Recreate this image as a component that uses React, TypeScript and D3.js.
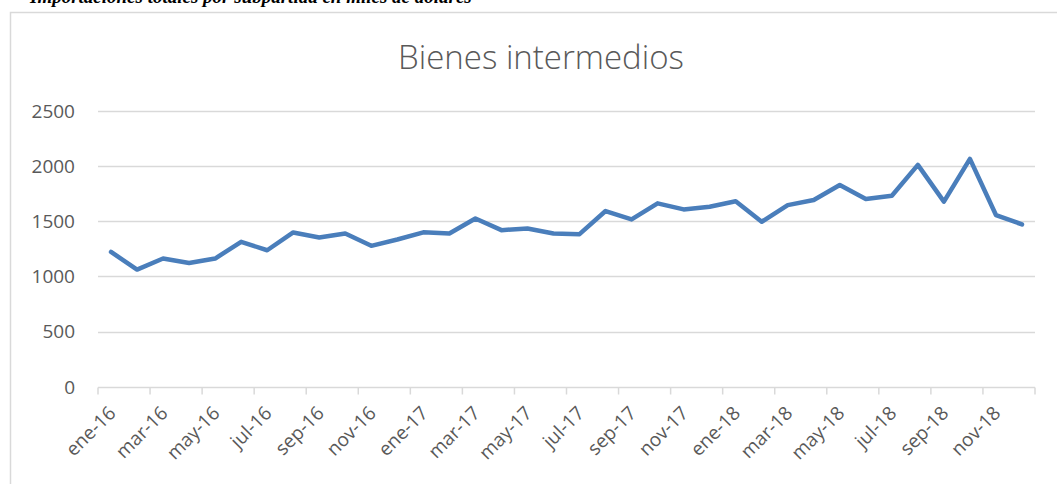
import React, { useEffect, useRef } from 'react';
import * as d3 from 'd3';

const months = ['ene', 'feb', 'mar', 'abr', 'may', 'jun', 'jul', 'ago', 'sep', 'oct', 'nov', 'dic'];
const years = ['16', '17', '18'];
const categories = years.flatMap((y) => months.map((m) => `${m}-${y}`));

const values2016 = [1221, 1061, 1161, 1121, 1161, 1312, 1236, 1397, 1352, 1388, 1276, 1333];
const values2017 = [1398, 1388, 1524, 1418, 1433, 1388, 1382, 1591, 1515, 1661, 1606, 1630];
const values2018 = [1680, 1494, 1645, 1691, 1827, 1700, 1730, 2009, 1676, 2064, 1555, 1470];
const values = [...values2016, ...values2017, ...values2018];

const yTicks = [0, 500, 1000, 1500, 2000, 2500];
const title = 'Bienes intermedios';
const caption = 'Importaciones totales por subpartida en miles de dólares';

export default function App() {
  const svgRef = useRef<SVGSVGElement>(null);

  useEffect(() => {
    const svg = d3.select(svgRef.current);
    svg.selectAll('*').remove();

    const margin = { left: 98, right: 1035, top: 110.7, bottom: 386.7 };

    const x = d3
      .scaleBand()
      .domain(categories)
      .range([margin.left, margin.right])
      .padding(0);
    const y = d3.scaleLinear().domain([0, 2500]).range([margin.bottom, margin.top]);

    // caption of the document, cut off by the top of the page
    svg
      .append('text')
      .attr('x', 30)
      .attr('y', 3)
      .style('font-family', '"Liberation Serif", serif')
      .style('font-style', 'italic')
      .style('font-weight', 'bold')
      .style('font-size', '19px')
      .attr('fill', '#000')
      .text(caption);

    // chart frame
    svg
      .append('rect')
      .attr('x', 10.5)
      .attr('y', 12.5)
      .attr('width', 1100)
      .attr('height', 600)
      .attr('fill', '#fff')
      .attr('stroke', '#d9d9d9')
      .attr('stroke-width', 1.5);

    svg
      .append('text')
      .attr('x', 541)
      .attr('y', 69)
      .attr('text-anchor', 'middle')
      .style('font-family', '"Open Sans", sans-serif')
      .style('font-weight', 300)
      .style('font-size', '33px')
      .attr('fill', '#595959')
      .text(title);

    // grid
    svg
      .append('g')
      .selectAll('line')
      .data(yTicks.filter((t) => t > 0))
      .join('line')
      .attr('x1', margin.left)
      .attr('x2', margin.right)
      .attr('y1', (d) => Math.round(y(d)) + 0.5)
      .attr('y2', (d) => Math.round(y(d)) + 0.5)
      .attr('stroke', '#d9d9d9')
      .attr('stroke-width', 1.5);

    // y labels
    svg
      .append('g')
      .selectAll('text')
      .data(yTicks)
      .join('text')
      .attr('x', 75)
      .attr('y', (d) => y(d))
      .attr('dy', '0.36em')
      .attr('text-anchor', 'end')
      .style('font-family', '"Open Sans", sans-serif')
      .style('font-size', '19px')
      .attr('fill', '#595959')
      .text((d) => d);

    // x axis
    const ax = svg.append('g');
    const yAxis = Math.round(y(0)) + 0.5;
    ax.append('line')
      .attr('x1', margin.left)
      .attr('x2', margin.right)
      .attr('y1', yAxis)
      .attr('y2', yAxis)
      .attr('stroke', '#d9d9d9')
      .attr('stroke-width', 1.5);

    const tickIdx = d3.range(0, categories.length + 1, 2);
    ax.selectAll('line.tick')
      .data(tickIdx)
      .join('line')
      .attr('class', 'tick')
      .attr('x1', (i) => margin.left + i * x.bandwidth())
      .attr('x2', (i) => margin.left + i * x.bandwidth())
      .attr('y1', yAxis)
      .attr('y2', yAxis + 7)
      .attr('stroke', '#d9d9d9')
      .attr('stroke-width', 1.5);

    ax.selectAll('text')
      .data(categories.filter((_, i) => i % 2 === 0))
      .join('text')
      .attr(
        'transform',
        (d) => `translate(${(x(d) ?? 0) + x.bandwidth() / 2 + 1},${yAxis + 22}) rotate(-45)`
      )
      .attr('text-anchor', 'end')
      .attr('dy', '0.36em')
      .style('font-family', '"Open Sans", sans-serif')
      .style('font-size', '19px')
      .attr('fill', '#595959')
      .text((d) => d);

    // series line
    const line = d3
      .line<number>()
      .x((_, i) => (x(categories[i]) ?? 0) + x.bandwidth() / 2)
      .y((d) => y(d));

    svg
      .append('path')
      .datum(values)
      .attr('d', line)
      .attr('fill', 'none')
      .attr('stroke', '#4a7ebb')
      .attr('stroke-width', 4.5)
      .attr('stroke-linejoin', 'round')
      .attr('stroke-linecap', 'round');
  }, []);

  return (
    <svg
      ref={svgRef}
      width={1057}
      height={484}
      style={{ position: 'absolute', left: 0, top: 0, background: '#fff' }}
    />
  );
}
